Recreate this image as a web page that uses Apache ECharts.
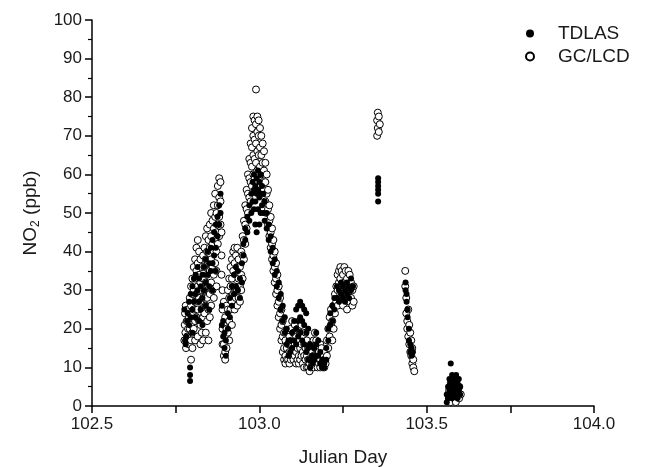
<!DOCTYPE html>
<html>
<head>
<meta charset="utf-8">
<script src="https://cdn.jsdelivr.net/npm/echarts@6/dist/echarts.min.js"></script>
<style>
  html, body { margin: 0; padding: 0; background: #fff; }
  #chart { width: 650px; height: 467px; }
</style>
</head>
<body>
<div id="chart"></div>
<script>
// each row: [julian day, NO2 readings (ppb) at that day ...]
var tdlasRows = [
  [102.776, 25], [102.778, 17], [102.780, 16], [102.782, 18], [102.784, 22], [102.786, 24],
  [102.793, 10, 8, 6.5],
  [102.790, 27, 21], [102.795, 29, 23], [102.800, 31, 25, 19], [102.805, 33, 27],
  [102.810, 34, 29, 23], [102.815, 36, 30], [102.820, 33, 27, 22], [102.825, 31, 25],
  [102.830, 34, 28, 21], [102.835, 36, 30], [102.840, 38, 32, 26], [102.845, 40, 34],
  [102.850, 37, 31, 25], [102.855, 41, 35], [102.860, 43, 37, 30], [102.865, 45, 39],
  [102.870, 47, 41, 35], [102.875, 49, 44], [102.880, 52, 47], [102.884, 55, 50],
  [102.888, 26, 21], [102.892, 22, 18], [102.896, 19, 15], [102.900, 17, 13],
  [102.906, 24, 20], [102.912, 28, 23], [102.918, 31, 26], [102.924, 34, 29],
  [102.930, 36, 31], [102.936, 35, 30], [102.942, 33, 28], [102.948, 37, 32],
  [102.952, 42, 39], [102.958, 46, 43], [102.964, 49, 45], [102.970, 52, 48],
  [102.976, 55, 50], [102.980, 58, 53], [102.984, 60, 56, 51], [102.988, 57, 53, 47],
  [102.992, 59, 55, 45], [102.996, 61, 56, 51], [103.000, 58, 54, 47], [103.004, 60, 55, 50],
  [103.008, 57, 52], [103.012, 55, 50], [103.016, 53, 48],
  [103.022, 50, 46], [103.028, 47, 43], [103.034, 44, 40], [103.040, 41, 37],
  [103.046, 38, 34], [103.052, 35, 31], [103.058, 32, 28], [103.064, 29, 25],
  [103.070, 26, 22], [103.076, 23, 19], [103.082, 20, 16], [103.087, 17, 13],
  [103.092, 17, 14], [103.098, 19, 15], [103.104, 22, 17], [103.110, 25, 20, 16],
  [103.116, 26, 22, 18], [103.122, 27, 23, 19], [103.128, 26, 22, 17], [103.134, 25, 21, 16],
  [103.140, 24, 19, 14], [103.146, 20, 15, 12], [103.152, 16, 12, 10], [103.158, 13, 11],
  [103.164, 15, 12], [103.170, 19, 16, 13], [103.176, 17, 13], [103.182, 14, 11],
  [103.188, 12, 10], [103.194, 11, 10], [103.200, 15, 12], [103.206, 20, 17],
  [103.212, 24, 21], [103.218, 26, 22], [103.224, 28, 25],
  [103.232, 31, 28], [103.238, 30, 27], [103.244, 32, 29], [103.250, 31, 28],
  [103.256, 30, 27], [103.262, 32, 29], [103.268, 31, 28], [103.274, 33, 30], [103.280, 31],
  [103.355, 59, 58, 57, 56, 55, 53],
  [103.437, 32, 30], [103.440, 29, 27], [103.443, 25, 23], [103.447, 20, 17],
  [103.451, 16, 14], [103.455, 15, 13], [103.459, 14],
  [103.560, 1, 3], [103.564, 5, 2], [103.568, 7, 4], [103.572, 6, 3, 11], [103.576, 8, 5, 2],
  [103.580, 6, 4], [103.584, 7, 3], [103.588, 5, 8], [103.592, 6, 2], [103.596, 4, 7], [103.600, 5, 3]
];

var gcRows = [
  [102.776, 17], [102.777, 21], [102.778, 24], [102.779, 19], [102.780, 26], [102.781, 15],
  [102.783, 22], [102.784, 18], [102.786, 25], [102.787, 20], [102.789, 16], [102.790, 23],
  [102.796, 12],
  [102.792, 28, 24, 20, 16], [102.796, 31, 26, 21, 17], [102.800, 33, 29, 24, 19, 15],
  [102.804, 36, 30, 25, 20], [102.808, 38, 33, 27, 22, 17], [102.812, 41, 35, 29, 23],
  [102.816, 43, 37, 31, 25, 18], [102.820, 40, 34, 28, 22], [102.824, 38, 32, 27, 21, 16],
  [102.828, 36, 30, 25, 19], [102.832, 39, 33, 28, 23, 17], [102.836, 41, 36, 30, 24],
  [102.840, 44, 38, 32, 26, 19], [102.844, 46, 40, 34, 28, 22], [102.848, 43, 37, 31, 25, 17],
  [102.852, 47, 41, 35, 29, 23], [102.856, 50, 44, 38, 32, 26], [102.860, 48, 42, 36, 30],
  [102.864, 52, 46, 40, 34, 28], [102.868, 55, 49, 43, 37], [102.872, 50, 45, 40, 35, 31],
  [102.876, 57, 52, 47, 42], [102.880, 59, 54, 49, 44], [102.884, 58, 53, 47], [102.887, 45, 39, 34],
  [102.890, 30, 25, 20, 16], [102.894, 27, 21, 16, 13], [102.898, 23, 18, 14, 12], [102.902, 26, 20, 15],
  [102.906, 30, 25, 19], [102.910, 33, 28, 22, 17], [102.914, 36, 31, 25], [102.918, 38, 33, 27, 21],
  [102.922, 40, 35, 29], [102.926, 41, 37, 31, 25], [102.930, 39, 34, 28], [102.934, 41, 36, 30, 26],
  [102.938, 38, 33, 28], [102.942, 36, 31, 27], [102.946, 40, 34, 30], [102.950, 44, 39, 33],
  [102.954, 48, 43, 38], [102.958, 52, 47, 42], [102.962, 56, 51, 46], [102.966, 60, 55, 50],
  [102.970, 64, 59, 54], [102.974, 68, 63, 58, 53], [102.978, 72, 67, 62, 57], [102.982, 75, 70, 65, 60],
  [102.986, 74, 69, 64, 59], [102.990, 82, 73, 68, 63, 58], [102.994, 75, 71, 66, 61],
  [102.998, 74, 70, 65, 60], [103.002, 72, 67, 62, 57], [103.006, 70, 65, 60, 55],
  [103.010, 68, 63, 58], [103.014, 66, 61, 56], [103.018, 63, 58, 53],
  [103.022, 60, 55, 50], [103.026, 56, 51, 47], [103.030, 52, 48, 44], [103.034, 49, 45, 41],
  [103.038, 46, 42, 38], [103.042, 43, 39, 35], [103.046, 40, 36, 32], [103.050, 37, 33, 29],
  [103.054, 34, 30, 26], [103.058, 31, 27, 23], [103.062, 28, 24, 20], [103.066, 25, 21, 17],
  [103.070, 22, 18, 14], [103.074, 19, 15, 12], [103.078, 17, 13, 11], [103.082, 15, 12],
  [103.086, 16, 12], [103.090, 18, 14, 11], [103.094, 20, 16, 12], [103.098, 22, 17, 13],
  [103.102, 19, 15, 12], [103.106, 21, 16, 13], [103.110, 18, 14, 11], [103.114, 20, 15, 12],
  [103.118, 17, 13, 11], [103.122, 19, 15, 12], [103.126, 21, 16, 13], [103.130, 18, 14, 11],
  [103.134, 16, 13, 10], [103.138, 19, 15, 12], [103.142, 17, 13, 10], [103.146, 15, 12, 10],
  [103.150, 14, 11, 9], [103.154, 16, 12, 10], [103.158, 14, 11], [103.162, 17, 13, 10],
  [103.166, 19, 15, 12], [103.170, 17, 13, 11], [103.174, 15, 12, 10], [103.178, 14, 11],
  [103.182, 16, 12, 10], [103.186, 15, 11], [103.190, 13, 10], [103.194, 12, 10],
  [103.198, 14, 11], [103.202, 17, 13], [103.206, 20, 15], [103.210, 23, 18],
  [103.214, 25, 21], [103.218, 22, 17], [103.222, 26, 20], [103.226, 29, 24], [103.230, 31, 27],
  [103.234, 34, 30, 26], [103.238, 35, 32, 28], [103.242, 36, 33, 29], [103.246, 35, 31, 27],
  [103.250, 34, 30, 26], [103.254, 36, 32, 28], [103.258, 35, 31], [103.262, 33, 29, 25],
  [103.266, 35, 30], [103.270, 34, 31, 27], [103.274, 32, 28], [103.278, 30, 26], [103.282, 31, 27],
  [103.352, 70, 74], [103.354, 72, 76], [103.357, 75, 71], [103.360, 73],
  [103.436, 35, 31], [103.439, 28, 24], [103.442, 22, 20], [103.445, 25, 18], [103.448, 21, 16],
  [103.451, 19, 14], [103.454, 17, 13], [103.457, 15, 11], [103.460, 12, 10], [103.463, 9],
  [103.567, 2, 4], [103.572, 1, 6], [103.577, 3], [103.582, 2, 5], [103.587, 1, 6],
  [103.592, 3, 4], [103.597, 2, 5], [103.602, 3]
];

var xMin = 102.5, xMax = 104.0, xStep = 0.5;
var yMin = 0, yMax = 100, yStep = 10;

function toPoints(rows) {
  var pts = [];
  rows.forEach(function (r) {
    for (var i = 1; i < r.length; i++) pts.push([r[0], r[i]]);
  });
  return pts;
}

var font = '"Liberation Sans", Arial, sans-serif';
var chart = echarts.init(document.getElementById('chart'));

chart.setOption({
  animation: false,
  backgroundColor: '#fff',
  textStyle: { fontFamily: font, color: '#1a1a1a' },
  grid: { left: 92, right: 56, top: 20, bottom: 61, outerBoundsMode: 'none', containLabel: false },
  legend: {
    data: ['TDLAS', 'GC/LCD'],
    orient: 'vertical',
    left: 520,
    top: 19,
    itemWidth: 8,
    itemHeight: 8,
    itemGap: 4,
    textStyle: { fontSize: 19, color: '#1a1a1a', fontFamily: font, padding: [0, 0, 0, 19] }
  },
  xAxis: {
    type: 'value',
    min: xMin,
    max: xMax,
    interval: xStep,
    name: 'Julian Day',
    nameLocation: 'middle',
    nameGap: 42,
    nameTextStyle: { fontSize: 19, color: '#1a1a1a', fontFamily: font },
    axisLine: { lineStyle: { color: '#000', width: 1.5 } },
    axisTick: { length: 7, lineStyle: { color: '#000', width: 1.5 } },
    minorTick: { show: true, splitNumber: 2, length: 7, lineStyle: { color: '#000', width: 1.5 } },
    splitLine: { show: false },
    axisLabel: {
      fontSize: 17, color: '#1a1a1a', margin: 10,
      formatter: function (v) { return v.toFixed(1); }
    }
  },
  yAxis: {
    type: 'value',
    min: yMin,
    max: yMax,
    interval: yStep,
    name: '{t|NO}{s|2}{t| (ppb)}',
    nameLocation: 'middle',
    nameRotate: 90,
    nameGap: 50,
    nameTextStyle: {
      rich: {
        t: { fontSize: 19, color: '#1a1a1a', fontFamily: font },
        s: { fontSize: 12, color: '#1a1a1a', fontFamily: font, padding: [11, 0, 0, 0] }
      }
    },
    axisLine: { show: true, lineStyle: { color: '#000', width: 1.5 } },
    axisTick: { show: true, length: 7, lineStyle: { color: '#000', width: 1.5 } },
    minorTick: { show: true, splitNumber: 2, length: 4, lineStyle: { color: '#000', width: 1.2 } },
    splitLine: { show: false },
    axisLabel: { fontSize: 17, color: '#1a1a1a', margin: 10 }
  },
  series: [
    {
      name: 'GC/LCD',
      type: 'scatter',
      symbol: 'circle',
      symbolSize: 7,
      itemStyle: { color: '#fff', borderColor: '#000', borderWidth: 1, opacity: 1 },
      data: toPoints(gcRows),
      z: 2
    },
    {
      name: 'TDLAS',
      type: 'scatter',
      symbol: 'circle',
      symbolSize: 6,
      itemStyle: { color: '#000', opacity: 1 },
      data: toPoints(tdlasRows),
      z: 3
    }
  ]
});
</script>
</body>
</html>
